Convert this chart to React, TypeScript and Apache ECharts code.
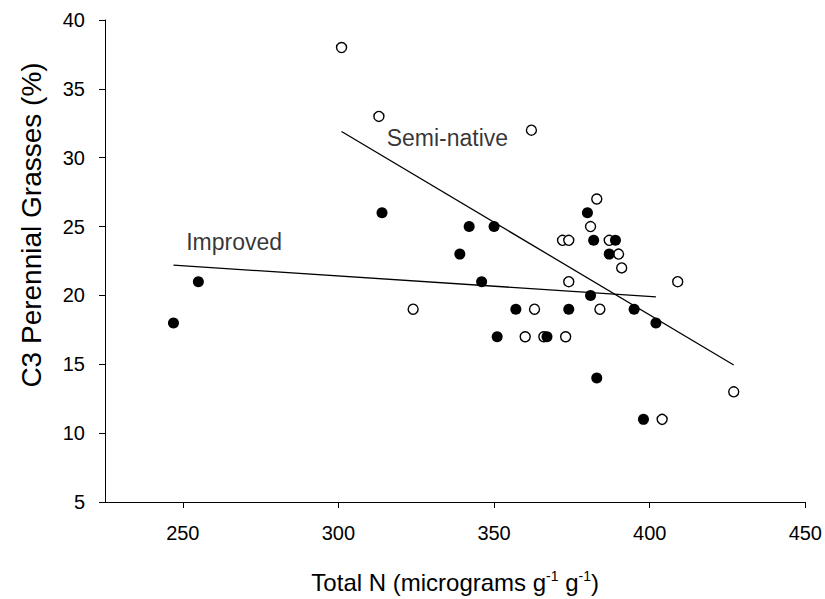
import React, { useEffect, useRef } from "react";
import * as echarts from "echarts";

// Axis ticks
const xTicks = [250, 300, 350, 400, 450];
const xMin = 225;
const xMax = 450;
const yMin = 5;
const yMax = 40;
const yStep = 5;

// Improved (filled circles)
const improvedX = [247, 255, 314, 342, 350, 339, 346, 380, 382, 389, 387, 381, 357, 374, 395, 402, 351, 367, 383, 398];
const improvedY = [18, 21, 26, 25, 25, 23, 21, 26, 24, 24, 23, 20, 19, 19, 19, 18, 17, 17, 14, 11];

// Semi-native (open circles)
const semiX = [301, 313, 362, 383, 381, 372, 374, 387, 390, 391, 374, 409, 324, 363, 384, 360, 366, 373, 427, 404];
const semiY = [38, 33, 32, 27, 25, 24, 24, 24, 23, 22, 21, 21, 19, 19, 19, 17, 17, 17, 13, 11];

// Regression line end points
const improvedLineX = [247, 402];
const improvedLineY = [22.2, 19.9];
const semiLineX = [301, 427];
const semiLineY = [31.9, 14.95];

// Line labels
const labelNames = ["Improved", "Semi-native"];
const labelX = [266.5, 335];
const labelY = [23.9, 31.4];

const FONT = "Liberation Sans, Arial, sans-serif";

export default function App() {
  const ref = useRef<HTMLDivElement>(null);
  useEffect(() => {
    if (!ref.current) return;
    const chart = echarts.init(ref.current, undefined, { renderer: "svg" });
    const zip = (xs: number[], ys: number[]) => xs.map((x, i) => [x, ys[i]]);
    chart.setOption({
      animation: false,
      backgroundColor: "#ffffff",
      textStyle: { fontFamily: FONT },
      grid: { left: 105, right: 19, top: 20, bottom: 92, containLabel: false },
      xAxis: {
        type: "value",
        min: xMin,
        max: xMax,
        splitLine: { show: false },
        axisLine: { show: true, onZero: false, lineStyle: { color: "#000", width: 1 } },
        axisTick: { show: true, length: 6, inside: false, customValues: xTicks, lineStyle: { color: "#000", width: 1 } },
        axisLabel: { customValues: xTicks, color: "#000", fontSize: 20, fontFamily: FONT, margin: 21 },
        name: "Total N (micrograms g{sup|-1} g{sup|-1})",
        nameLocation: "middle",
        nameGap: 67,
        nameTextStyle: {
          color: "#000",
          fontSize: 24,
          fontFamily: FONT,
          rich: {
            sup: { fontSize: 14, verticalAlign: "top", padding: [0, 0, 12, 0], fontFamily: FONT, color: "#000" },
          },
        },
      },
      yAxis: {
        type: "value",
        min: yMin,
        max: yMax,
        interval: yStep,
        splitLine: { show: false },
        axisLine: { show: true, onZero: false, lineStyle: { color: "#000", width: 1 } },
        axisTick: { show: true, length: 6, inside: false, lineStyle: { color: "#000", width: 1 } },
        axisLabel: { color: "#000", fontSize: 20, fontFamily: FONT, margin: 20 },
        name: "C3 Perennial Grasses (%)",
        nameLocation: "middle",
        nameGap: 60,
        nameRotate: 90,
        nameTextStyle: { color: "#000", fontSize: 28, fontFamily: FONT, padding: [0, 0, 0, 72] },
      },
      series: [
        {
          type: "line",
          data: zip(improvedLineX, improvedLineY),
          symbol: "none",
          lineStyle: { color: "#000", width: 1.3 },
          silent: true,
          z: 1,
        },
        {
          type: "line",
          data: zip(semiLineX, semiLineY),
          symbol: "none",
          lineStyle: { color: "#000", width: 1.3 },
          silent: true,
          z: 1,
        },
        {
          type: "scatter",
          name: "Semi-native",
          data: zip(semiX, semiY),
          symbol: "circle",
          symbolSize: 10,
          itemStyle: { color: "#fff", borderColor: "#000", borderWidth: 1.4, opacity: 1 },
          z: 2,
        },
        {
          type: "scatter",
          name: "Improved",
          data: zip(improvedX, improvedY),
          symbol: "circle",
          symbolSize: 11,
          itemStyle: { color: "#000", opacity: 1 },
          z: 3,
        },
        {
          type: "scatter",
          data: labelNames.map((n, i) => ({ name: n, value: [labelX[i], labelY[i]] })),
          symbolSize: 0,
          silent: true,
          label: {
            show: true,
            position: "inside",
            formatter: "{b}",
            color: "#000",
            fontSize: 23,
            fontFamily: FONT,
          },
          z: 4,
        },
      ],
    });
    return () => chart.dispose();
  }, []);
  return <div ref={ref} style={{ width: 825, height: 599, position: "absolute", left: 0, top: 0 }} />;
}
